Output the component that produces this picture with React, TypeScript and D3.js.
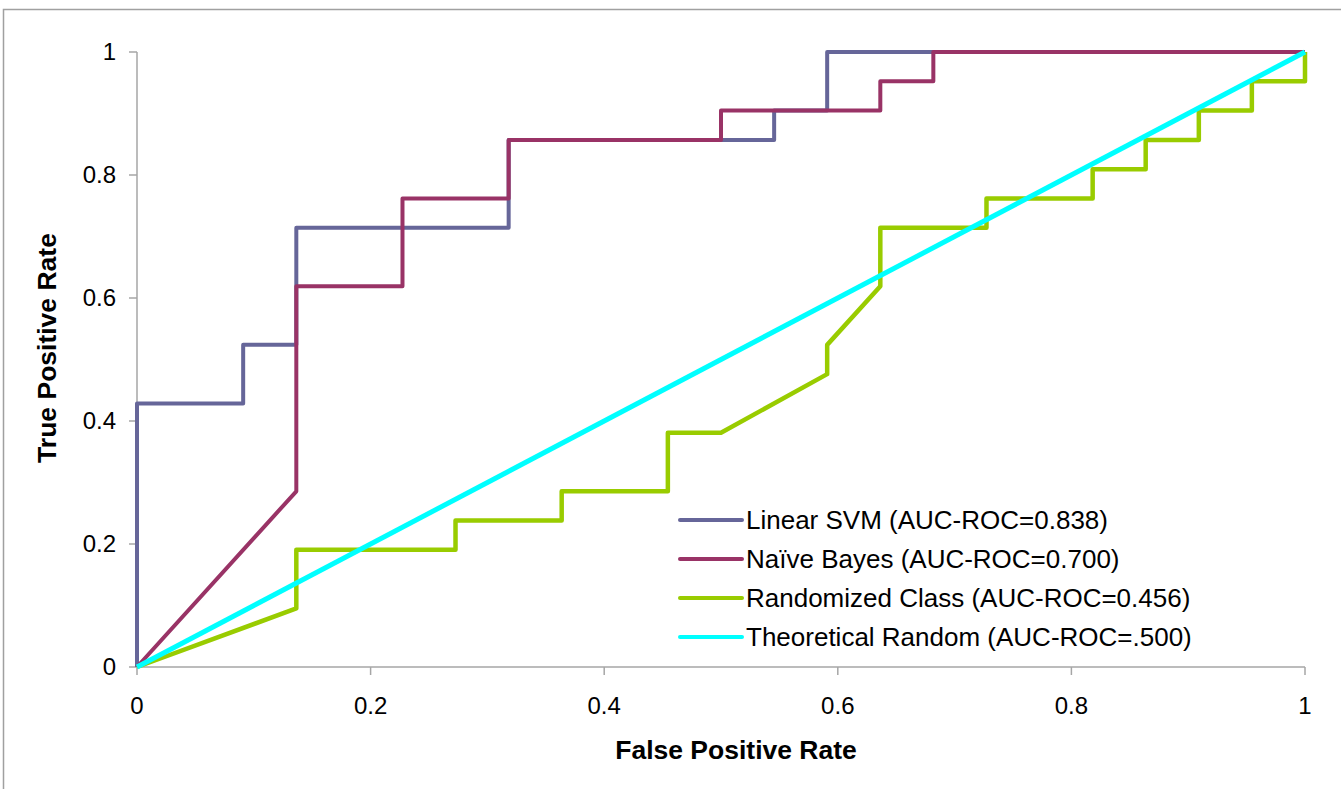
import React from 'react';
import * as d3 from 'd3';

// ROC curve points (FPR steps of 1/22, TPR steps of 1/21)
const svmFpr = [0, 0, 0.0909, 0.0909, 0.1364, 0.1364, 0.3182, 0.3182, 0.5455, 0.5455, 0.5909, 0.5909, 1];
const svmTpr = [0, 0.4286, 0.4286, 0.5238, 0.5238, 0.7143, 0.7143, 0.8571, 0.8571, 0.9048, 0.9048, 1, 1];

const nbFpr = [0, 0.1364, 0.1364, 0.2273, 0.2273, 0.3182, 0.3182, 0.5, 0.5, 0.6364, 0.6364, 0.6818, 0.6818, 1];
const nbTpr = [0, 0.2857, 0.619, 0.619, 0.7619, 0.7619, 0.8571, 0.8571, 0.9048, 0.9048, 0.9524, 0.9524, 1, 1];

const rcFpr = [0, 0.1364, 0.1364, 0.2727, 0.2727, 0.3636, 0.3636, 0.4545, 0.4545, 0.5, 0.5909, 0.5909, 0.6364, 0.6364,
  0.7273, 0.7273, 0.8182, 0.8182, 0.8636, 0.8636, 0.9091, 0.9091, 0.9545, 0.9545, 1, 1];
const rcTpr = [0, 0.0952, 0.1905, 0.1905, 0.2381, 0.2381, 0.2857, 0.2857, 0.381, 0.381, 0.4762, 0.5238, 0.619, 0.7143,
  0.7143, 0.7619, 0.7619, 0.8095, 0.8095, 0.8571, 0.8571, 0.9048, 0.9048, 0.9524, 0.9524, 1];

const trFpr = [0, 1];
const trTpr = [0, 1];

const ticks = [0, 0.2, 0.4, 0.6, 0.8, 1];

const series = [
  { name: 'Linear SVM (AUC-ROC=0.838)', color: '#666699', width: 4, fpr: svmFpr, tpr: svmTpr },
  { name: 'Naïve Bayes (AUC-ROC=0.700)', color: '#993366', width: 4, fpr: nbFpr, tpr: nbTpr },
  { name: 'Randomized Class (AUC-ROC=0.456)', color: '#99cc00', width: 4.5, fpr: rcFpr, tpr: rcTpr },
  { name: 'Theoretical Random (AUC-ROC=.500)', color: '#00ffff', width: 5, fpr: trFpr, tpr: trTpr },
];

const W = 1341;
const H = 789;
const font = 'Arial, "Liberation Sans", sans-serif';

export default function App() {
  const x = d3.scaleLinear().domain([0, 1]).range([137, 1305]);
  const y = d3.scaleLinear().domain([0, 1]).range([667, 52]);

  const lineGen = d3
    .line<[number, number]>()
    .x((d) => x(d[0]))
    .y((d) => y(d[1]));

  const axisColor = '#a6a6a6';

  return (
    <svg
      width={W}
      height={H}
      style={{ position: 'absolute', left: 0, top: 0, background: '#fff' }}
    >
      <rect x={3.5} y={9.5} width={W + 10} height={H + 10} fill="#fff" stroke="#a0a0a0" strokeWidth={1.5} />

      {/* axes */}
      <line x1={x(0)} x2={x(0)} y1={y(1)} y2={y(0)} stroke={axisColor} strokeWidth={1.5} />
      <line x1={x(0)} x2={x(1)} y1={y(0)} y2={y(0)} stroke={axisColor} strokeWidth={1.5} />
      {ticks.map((t) => (
        <g key={'y' + t}>
          <line x1={x(0) - 8} x2={x(0)} y1={y(t)} y2={y(t)} stroke={axisColor} strokeWidth={1.5} />
          <text x={116} y={y(t)} dy="0.35em" textAnchor="end" fontFamily={font} fontSize={24} fill="#000">
            {d3.format('~g')(t)}
          </text>
        </g>
      ))}
      {ticks.map((t) => (
        <g key={'x' + t}>
          <line x1={x(t)} x2={x(t)} y1={y(0)} y2={y(0) + 8} stroke={axisColor} strokeWidth={1.5} />
          <text x={x(t)} y={714} textAnchor="middle" fontFamily={font} fontSize={24} fill="#000">
            {d3.format('~g')(t)}
          </text>
        </g>
      ))}

      <text x={736} y={759} textAnchor="middle" fontFamily={font} fontSize={26.5} fontWeight="bold">
        False Positive Rate
      </text>
      <text
        transform={`translate(56, 348) rotate(-90)`}
        textAnchor="middle"
        fontFamily={font}
        fontSize={26.5}
        fontWeight="bold"
      >
        True Positive Rate
      </text>

      {/* curves */}
      {series.map((s) => (
        <path
          key={s.name}
          d={lineGen(s.fpr.map((f, i) => [f, s.tpr[i]] as [number, number])) || ''}
          fill="none"
          stroke={s.color}
          strokeWidth={s.width}
          strokeLinejoin="round"
        />
      ))}

      {/* legend */}
      {series.map((s, i) => (
        <g key={'lg' + i} transform={`translate(680, ${520 + i * 39})`}>
          <line x1={0} x2={62} y1={0} y2={0} stroke={s.color} strokeWidth={4} strokeLinecap="round" />
          <text x={66} y={0} dy="0.36em" fontFamily={font} fontSize={26} fill="#000">
            {s.name}
          </text>
        </g>
      ))}
    </svg>
  );
}
